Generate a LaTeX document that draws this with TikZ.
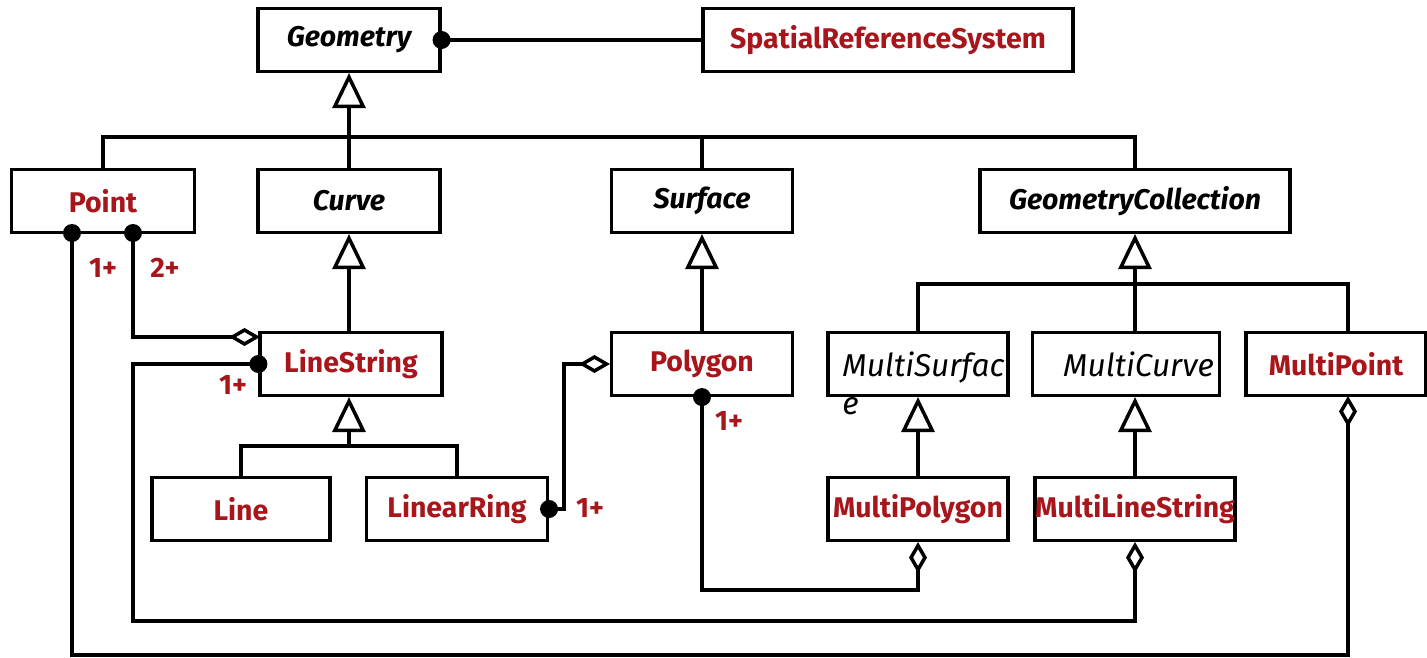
\documentclass[tikz,border=0pt]{standalone}
\usepackage{fontspec}
\setmainfont{Fira Sans}
\usetikzlibrary{arrows.meta}
\definecolor{clsred}{RGB}{168,22,28}
\begin{document}
\begin{tikzpicture}[x=0.02cm,y=-0.02cm,
  box/.style={draw,line width=1.8pt,minimum height=1.26cm,inner sep=0pt,font=\fontsize{16.2}{19}\selectfont\bfseries},
  abs/.style={box,font=\fontsize{16.2}{19}\selectfont\bfseries\itshape},
  conc/.style={box,text=clsred},
  wire/.style={line width=2pt},
  gen/.style={wire,-{Triangle[open,length=0.7cm,width=0.66cm,fill=white]}},
  agg/.style={wire,-{Diamond[open,length=0.62cm,width=0.36cm,fill=white]}},
  mult/.style={text=clsred,font=\fontsize{16}{18}\selectfont\bfseries}]
\useasboundingbox (0,0) rectangle (1427,658);
\node[abs,minimum width=3.64cm] (geom) at (349,40) {Geometry};
\node[conc,minimum width=7.4cm] (srs) at (888,40) {SpatialReferenceSystem};
\node[conc,minimum width=3.66cm] (point) at (103,201) {Point};
\node[abs,minimum width=3.64cm] (curve) at (349,201) {Curve};
\node[abs,minimum width=3.62cm] (surface) at (702,201) {Surface};
\node[abs,minimum width=6.2cm] (gcoll) at (1135,201) {GeometryCollection};
\node[conc,minimum width=3.64cm] (lstring) at (351,364) {LineString};
\node[conc,minimum width=3.62cm] (polygon) at (702,364) {Polygon};
\node[box,minimum width=3.6cm] (msurf) at (918,364) {};
\node[box,minimum width=3.74cm,font=\fontsize{18}{20}\selectfont\itshape] (mcurve) at (1126,364) {\hspace*{0.5cm}MultiCurve};
\node[conc,minimum width=3.6cm] (mpoint) at (1336,364) {MultiPoint};
\node[conc,minimum width=3.56cm] (line) at (241,509) {Line};
\node[conc,minimum width=3.62cm] (lring) at (457,509) {LinearRing};
\node[conc,minimum width=3.6cm] (mpoly) at (918,509) {MultiPolygon};
\node[conc,minimum width=4.0cm] (mlstring) at (1135,509) {MultiLineString};
\node[anchor=north west,align=left,inner sep=0pt,font=\fontsize{18}{22}\selectfont\itshape] (msurftxt) at (842,351) {MultiSurfac\\e};
\coordinate (busA) at (0,137);
\coordinate (busB) at (0,446);
\coordinate (busC) at (0,284);
\coordinate (ptA) at (72,233);
\coordinate (ptB) at (133,233);
\coordinate (lsA) at (260,337);
\coordinate (mpc) at (1348,396);
\draw[wire] (geom.east) -- (srs.west);
\draw[gen] (curve.north) -- (geom.south);
\draw[wire] (point.north) |- (gcoll.north |- busA) -- (gcoll.north);
\draw[wire] (surface.north) -- (surface.north |- busA);
\draw[gen] (lstring.north -| curve.south) -- (curve.south);
\draw[gen] (polygon.north) -- (surface.south);
\draw[gen] (curve.south |- busB) -- (curve.south |- lstring.south);
\draw[wire] (line.north) |- (lring.north |- busB) -- (lring.north);
\draw[gen] (gcoll.south |- busC) -- (gcoll.south);
\draw[wire] (msurf.north) |- (mpc |- busC) -- (mpc |- mpoint.north);
\draw[wire] (gcoll.south |- mcurve.north) -- (gcoll.south |- busC);
\draw[gen] (mpoly.north) -- (msurf.south);
\draw[gen] (mlstring.north) -- (mlstring.north |- mcurve.south);
\draw[agg] (ptB) |- (lsA);
\draw[agg] (lstring.west) -| (133,621) -| (mlstring.south);
\draw[agg] (lring.east) -- ++(15,0) |- (polygon.west);
\draw[agg] (polygon.south) -- ++(0,193) -| (mpoly.south);
\draw[agg] (ptA) -- ++(0,422) -| (mpc);
\foreach \p in {geom.east,ptA,ptB,lstring.west,lring.east,polygon.south}
	\fill (\p) circle (0.18cm);
\node[mult] (m1) at (103,268) {1+};
\node[mult] (m2) at (165,268) {2+};
\node[mult] (m3) at (233,385) {1+};
\node[mult] (m4) at (590,508) {1+};
\node[mult] (m5) at (729,421) {1+};
\end{tikzpicture}
\end{document}
